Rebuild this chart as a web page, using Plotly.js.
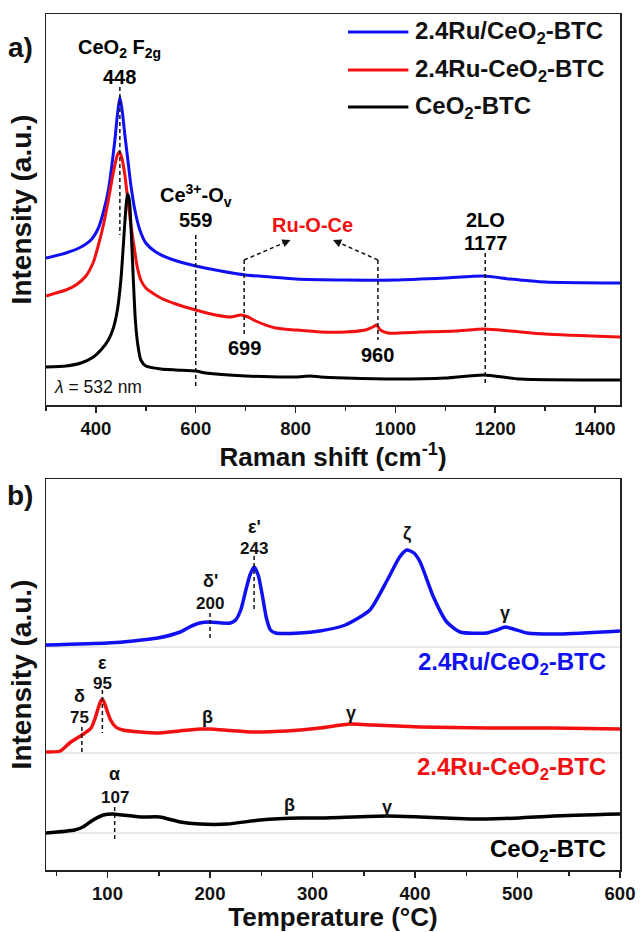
<!DOCTYPE html>
<html><head><meta charset="utf-8">
<script src="https://cdn.plot.ly/plotly-3.0.1.min.js"></script>
<style>html,body{margin:0;padding:0;background:#fff}</style>
</head><body><div id="chart" style="width:641px;height:932px"></div>
<script>
// ---------- Panel a: Raman spectra ----------
const ramanBlueX = [300,340,370,390,405,415,425,432,438,443,448,453,458,464,470,478,488,500,520,550,600,650,700,750,800,900,1000,1100,1177,1230,1300,1450];
const ramanBlueY = [147,152,158,165,177,193,215,240,265,290,308,293,270,245,220,195,175,162,153,146,139,134,130,128,126,125,125,127,129,126,123,122];
const ramanRedX = [300,320,340,360,380,395,405,415,425,432,438,443,447,452,458,464,470,476,482,490,500,530,560,600,640,670,690,705,720,760,800,850,900,940,955,962,970,985,1050,1120,1177,1230,1300,1450];
const ramanRedY = [109,112,115,120,129,143,160,180,205,225,240,250,253,247,230,205,180,160,140,125,117,107,101,95,90,88,90,88,84,77,75,73,73,75,78,80,75,72,73,74,76,74,71,68];
const ramanBlackX = [300,340,370,395,410,425,435,443,450,455,459,463,467,471,475,479,484,490,500,530,560,600,620,700,800,830,850,900,1000,1100,1177,1250,1450];
const ramanBlackY = [38,39,42,48,55,65,77,95,125,160,190,211,205,170,125,85,60,45,39,36,35,34,32,29,28,29,28,27,26,27,30,26,25];

// ---------- Panel b: H2-TPR profiles ----------
const tprBlueX = [40,100,125,149,171,180,190,200,211,220,225,230,235,239,243,247,251,255,259,264,288,307,332,356,373,385,392,399,405,418,431,444,470,480,488,496,509,541,600];
const tprBlueY = [225,227,229,232,238,243,247,248,247,247,250,260,280,295,303,295,275,252,240,237,237,239,245,260,290,313,320,317,308,273,248,238,237,240,243,241,237,236,239];
const tprRedX = [40,54,63,72,78,84,88,91,93,95,97,100,103,108,115,132,151,170,190,200,239,288,307,337,359,405,470,535,600];
const tprRedY = [118,119,127,133,137,142,152,162,168,171,167,158,150,143,140,138,137,139,141,141,138,140,142,146,145,143,142,142,141];
const tprBlackX = [40,68,76,86,96,105,132,151,171,190,217,249,288,307,373,405,454,470,502,535,600];
const tprBlackY = [37,40,43,50,55,56,53,53,48,46,46,50,52,52,54,53,51,51,52,54,56];
const tprBaselines = [223,117,37];

const seriesNames = ['2.4Ru/CeO<sub>2</sub>-BTC','2.4Ru-CeO<sub>2</sub>-BTC','CeO<sub>2</sub>-BTC'];
const seriesColors = ['#1010f2','#f21010','#000000'];

// Peak marker lines: [x, yTop, yBottom]
const ramanPeakLines = [[448,318,170],[600,170,18],[697,145,68],[965,145,65],[1180,152,20]];
const tprPeakLines = [[75,143,117],[95,180,137],[107,63,30],[200,257,230],[243,314,258]];

// Text labels: [text, x, y, colorIndex]
const ramanLabels = [
  ['CeO<sub>2</sub> F<sub>2g</sub>',448,357,2],['448',448,328,2],
  ['Ce<sup>3+</sup>-O<sub>v</sub>',600,210,2],['559',600,185,2],
  ['Ru-O-Ce',833,180,1],['699',697,57,2],['960',965,50,2],
  ['2LO',1180,185,2],['1177',1180,162,2]
];
const tprNumLabels = [
  ['200',200,267],['243',243,322],['95',95,187],['75',73,153],['107',107,73]
];
const tprGreekLabels = [
  ["δ'",200,289],["ε'",243,343],['ζ',392,337],['γ',488,257],
  ['ε',95,207],['δ',73,174],['β',198,153],['γ',338,157],
  ['α',107,96],['β',278,65],['γ',373,63]
];
const tprSampleLabels = [[0,588,207],[1,588,102],[2,588,20]];

const FONT = 'Liberation Sans, Arial, sans-serif';
const traces = [];
const rx = [ramanBlueX, ramanRedX, ramanBlackX], ry = [ramanBlueY, ramanRedY, ramanBlackY];
const tx = [tprBlueX, tprRedX, tprBlackX], ty = [tprBlueY, tprRedY, tprBlackY];
for (let i = 0; i < 3; i++) {
  traces.push({x: rx[i], y: ry[i], xaxis:'x', yaxis:'y', mode:'lines', name: seriesNames[i], showlegend:false,
    line:{color: seriesColors[i], width:3, shape:'spline', smoothing:0.6}});
}
for (let i = 0; i < 3; i++) {
  traces.push({x: tx[i], y: ty[i], xaxis:'x2', yaxis:'y2', mode:'lines', name: seriesNames[i], showlegend:false,
    line:{color: seriesColors[i], width:3.5, shape:'spline', smoothing:0.6}});
}

const shapes = [];
const annotations = [];
const dash = '4px,3px';
ramanPeakLines.forEach(p => shapes.push({type:'line', xref:'x', yref:'y', x0:p[0], x1:p[0], y0:p[1], y1:p[2], line:{color:'#111', width:1.5, dash:dash}}));
tprPeakLines.forEach(p => shapes.push({type:'line', xref:'x2', yref:'y2', x0:p[0], x1:p[0], y0:p[1], y1:p[2], line:{color:'#111', width:1.5, dash:dash}}));
tprBaselines.forEach(b => shapes.push({type:'line', xref:'x2 domain', yref:'y2', x0:0, x1:1, y0:b, y1:b, layer:'below', line:{color:'#d2d2d2', width:1}}));

// Ru-O-Ce dashed arrows
const arrows = [[697,145,790,165],[965,145,875,165]];
arrows.forEach(a => {
  shapes.push({type:'line', xref:'x', yref:'y', x0:a[0], y0:a[1], x1:a[0]+(a[2]-a[0])*0.85, y1:a[1]+(a[3]-a[1])*0.85, line:{color:'#111', width:1.5, dash:dash}});
  annotations.push({xref:'x', yref:'y', axref:'x', ayref:'y', x:a[2], y:a[3], ax:a[0]+(a[2]-a[0])*0.8, ay:a[1]+(a[3]-a[1])*0.8,
    text:'', showarrow:true, arrowhead:2, arrowsize:1.1, arrowwidth:1.5, arrowcolor:'#111'});
});

ramanLabels.forEach(l => annotations.push({xref:'x', yref:'y', x:l[1], y:l[2], text:'<b>'+l[0]+'</b>', showarrow:false,
  font:{family:FONT, size:20, color: seriesColors[l[3]]}}));
tprNumLabels.forEach(l => annotations.push({xref:'x2', yref:'y2', x:l[1], y:l[2], text:'<b>'+l[0]+'</b>', showarrow:false,
  font:{family:FONT, size:17, color:'#111'}}));
tprGreekLabels.forEach(l => annotations.push({xref:'x2', yref:'y2', x:l[1], y:l[2], text:'<b>'+l[0]+'</b>', showarrow:false,
  font:{family:FONT, size:18, color:'#111'}}));
tprSampleLabels.forEach(l => annotations.push({xref:'x2', yref:'y2', x:l[1], y:l[2], xanchor:'right', text:'<b>'+seriesNames[l[0]]+'</b>', showarrow:false,
  font:{family:FONT, size:24, color: seriesColors[l[0]]}}));

// Legend for panel a (drawn)
const legendRows = [373,335,298];
for (let i = 0; i < 3; i++) {
  shapes.push({type:'line', xref:'x', yref:'y', x0:905, x1:1026, y0:legendRows[i], y1:legendRows[i], line:{color:seriesColors[i], width:3}});
  annotations.push({xref:'x', yref:'y', x:1036, y:legendRows[i], xanchor:'left', text:'<b>'+seriesNames[i]+'</b>', showarrow:false,
    font:{family:FONT, size:24, color:'#111'}});
}
annotations.push({xref:'x', yref:'y', x:312, y:18, xanchor:'left', text:'<i>λ</i> = 532 nm', showarrow:false, font:{family:FONT, size:17.5, color:'#111'}});
annotations.push({xref:'paper', yref:'paper', x:-0.045, y:(870-30)/856, xanchor:'center', text:'<b>a)</b>', showarrow:false, font:{family:FONT, size:28, color:'#111'}});
annotations.push({xref:'paper', yref:'paper', x:-0.045, y:(870-495)/856, xanchor:'center', text:'<b>b)</b>', showarrow:false, font:{family:FONT, size:28, color:'#111'}});

const axisCommon = {showline:true, mirror:true, linecolor:'#222', linewidth:1.5, showgrid:false, zeroline:false};
const layout = {
  width:641, height:932, paper_bgcolor:'#fff', plot_bgcolor:'#fff',
  margin:{l:46, r:21, t:14, b:62},
  showlegend:false,
  xaxis: Object.assign({}, axisCommon, {domain:[0,1], anchor:'y', range:[300,1450], dtick:200, tick0:0, ticks:'outside', ticklen:6, tickwidth:1.5, tickcolor:'#222',
    minor:{ticks:'outside', ticklen:4, tickwidth:1.5, tickcolor:'#222', dtick:100, tick0:0},
    tickfont:{family:FONT, size:18.5, weight:'bold', color:'#111'},
    title:{text:'<b>Raman shift (cm<sup>-1</sup>)</b>', font:{family:FONT, size:26, color:'#111'}, standoff:4}}),
  yaxis: Object.assign({}, axisCommon, {domain:[(870-405)/856,1], anchor:'x', range:[0,391], showticklabels:false, ticks:'',
    title:{text:'<b>Intensity (a.u.)</b>', font:{family:FONT, size:28, color:'#111'}, standoff:4}}),
  xaxis2: Object.assign({}, axisCommon, {domain:[0,1], anchor:'y2', range:[40,600], dtick:100, tick0:0, ticks:'outside', ticklen:6, tickwidth:1.5, tickcolor:'#222',
    minor:{ticks:'outside', ticklen:4, tickwidth:1.5, tickcolor:'#222', dtick:50, tick0:0},
    tickfont:{family:FONT, size:18.5, weight:'bold', color:'#111'},
    title:{text:'<b>Temperature (°C)</b>', font:{family:FONT, size:26, color:'#111'}, standoff:4}}),
  yaxis2: Object.assign({}, axisCommon, {domain:[0,(870-479)/856], anchor:'x2', range:[0,391], showticklabels:false, ticks:'',
    title:{text:'<b>Intensity (a.u.)</b>', font:{family:FONT, size:28, color:'#111'}, standoff:4}}),
  shapes: shapes,
  annotations: annotations
};
Plotly.newPlot('chart', traces, layout, {displayModeBar:false, staticPlot:true});
</script></body></html>
